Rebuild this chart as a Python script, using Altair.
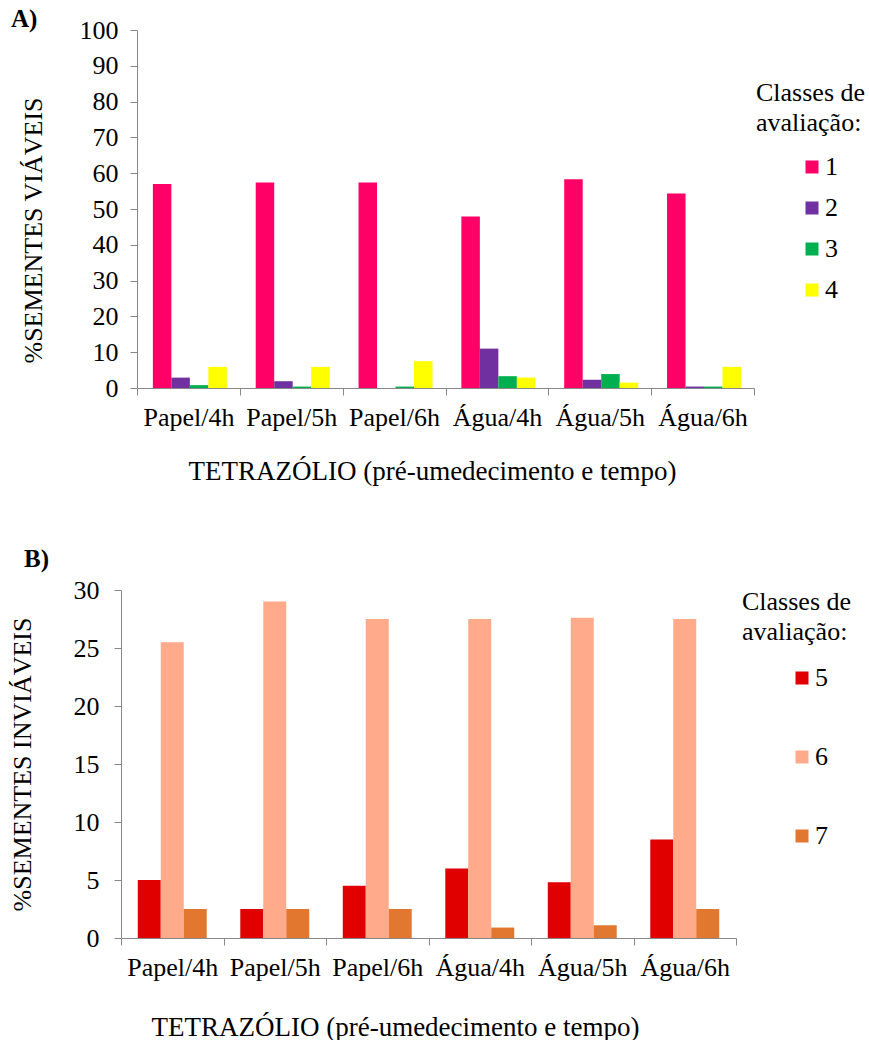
import altair as alt
import pandas as pd

# Treatments on the x axis (pre-moistening method / staining time)
tratamentos = ["Papel/4h", "Papel/5h", "Papel/6h", "Água/4h", "Água/5h", "Água/6h"]

# A) viable seeds (%) per evaluation class
classe_1 = [57.0, 57.4, 57.4, 47.9, 58.3, 54.3]
classe_2 = [2.9, 1.9, 0.0, 11.0, 2.3, 0.4]
classe_3 = [0.8, 0.4, 0.4, 3.3, 3.9, 0.4]
classe_4 = [5.9, 5.9, 7.5, 2.9, 1.5, 5.9]

# B) non-viable seeds (%) per evaluation class
classe_5 = [5.0, 2.5, 4.5, 6.0, 4.8, 8.5]
classe_6 = [25.5, 29.0, 27.5, 27.5, 27.6, 27.5]
classe_7 = [2.5, 2.5, 2.5, 0.9, 1.1, 2.5]

cores_a = ["#FF0066", "#7030A0", "#00B050", "#FFFF00"]
cores_b = ["#E00000", "#FFAA8A", "#E2772F"]

FONTE = "Liberation Serif"
CINZA = "#888888"

# panel A's plot starts this many pixels right of panel B's
RECUO_A = 16
LARGURA_A = 617
LARGURA_B = 615


def tabela(series):
    linhas = []
    for classe, valores in series.items():
        for trat, v in zip(tratamentos, valores):
            linhas.append({"tratamento": trat, "classe": classe, "valor": v})
    return pd.DataFrame(linhas)


dados_a = tabela({"1": classe_1, "2": classe_2, "3": classe_3, "4": classe_4})
dados_b = tabela({"5": classe_5, "6": classe_6, "7": classe_7})

titulo_x = "TETRAZÓLIO (pré-umedecimento e tempo)"


def eixo_x(title_x, title_pad):
    return alt.Axis(
        title=titulo_x, labelAngle=0, tickBand="extent", titleX=title_x,
        labelFont=FONTE, labelFontSize=26, labelColor="black", labelPadding=9,
        titleFont=FONTE, titleFontSize=27, titleFontWeight="normal",
        titleColor="black", titlePadding=title_pad,
        domainColor=CINZA, tickColor=CINZA, tickSize=7, grid=False,
    )


def eixo_y(title, values, label_pad, title_pad, title_y=None, offset=None):
    kw = dict(
        title=title, values=values, labelFont=FONTE, labelFontSize=26,
        labelColor="black", labelPadding=label_pad,
        titleFont=FONTE, titleFontSize=26, titleFontWeight="normal",
        titleColor="black", titlePadding=title_pad,
        domainColor=CINZA, tickColor=CINZA, tickSize=7, grid=False,
    )
    if title_y is not None:
        kw["titleY"] = title_y
    if offset is not None:
        kw["offset"] = offset
    return alt.Axis(**kw)


def legenda(dx, dy, sym_off, lab_off, row_pad, title_pad):
    return alt.Legend(
        title=["Classes de", "avaliação:"], orient="none",
        legendX=dx, legendY=dy, padding=0,
        titleFont=FONTE, titleFontSize=26, titleFontWeight="normal",
        titleColor="black", titleLineHeight=30, titlePadding=title_pad,
        titleAnchor="start", titleAlign="left",
        labelFont=FONTE, labelFontSize=26, labelColor="black",
        symbolType="square", symbolSize=169, symbolStrokeWidth=0,
        symbolOffset=sym_off, labelOffset=lab_off, rowPadding=row_pad,
    )


def titulo(texto, dx, offset):
    return alt.TitleParams(texto, anchor="start", frame="group", font=FONTE,
                           fontSize=25, fontWeight="bold", color="black",
                           dx=dx, offset=offset)


painel_a = (
    alt.Chart(dados_a)
    .mark_bar()
    .encode(
        x=alt.X("tratamento:N", sort=tratamentos,
                scale=alt.Scale(paddingInner=0, paddingOuter=0,
                                range=[RECUO_A, RECUO_A + LARGURA_A]),
                axis=eixo_x(311, 28)),
        xOffset=alt.XOffset("classe:N",
                            scale=alt.Scale(paddingInner=0, paddingOuter=0.78,
                                            align=0.55)),
        y=alt.Y("valor:Q", scale=alt.Scale(domain=[0, 100], nice=False),
                axis=eixo_y("%SEMENTES VIÁVEIS", list(range(0, 101, 10)),
                            12, 33, 200, -RECUO_A)),
        color=alt.Color("classe:N",
                        scale=alt.Scale(domain=["1", "2", "3", "4"], range=cores_a),
                        legend=legenda(635, 50, 43, 0, 15, 18)),
    )
    .properties(width=RECUO_A + LARGURA_A, height=358,
                title=titulo("A)", -110, -15))
)

painel_b = (
    alt.Chart(dados_b)
    .mark_bar()
    .encode(
        x=alt.X("tratamento:N", sort=tratamentos,
                scale=alt.Scale(paddingInner=0, paddingOuter=0),
                axis=eixo_x(274, 34)),
        xOffset=alt.XOffset("classe:N",
                            scale=alt.Scale(paddingInner=0, paddingOuter=0.73)),
        y=alt.Y("valor:Q", scale=alt.Scale(domain=[0, 30], nice=False),
                axis=eixo_y("%SEMENTES INVIÁVEIS", list(range(0, 31, 5)),
                            15, 38)),
        color=alt.Color("classe:N",
                        scale=alt.Scale(domain=["5", "6", "7"], range=cores_b),
                        legend=legenda(621, -1, 47, 0, 53, 20)),
    )
    .properties(width=LARGURA_B, height=348, title=titulo("B)", -97, 5))
)

chart = (
    alt.concat(painel_a, painel_b, columns=1, spacing=63)
    .resolve_scale(color="independent", x="independent", y="independent",
                   xOffset="independent")
    .configure_view(stroke=None)
    .properties(padding={"left": 9, "top": 7, "right": 0, "bottom": 0},
                background="white")
)

chart.save("out.html", embed_options={"renderer": "svg", "actions": False})
